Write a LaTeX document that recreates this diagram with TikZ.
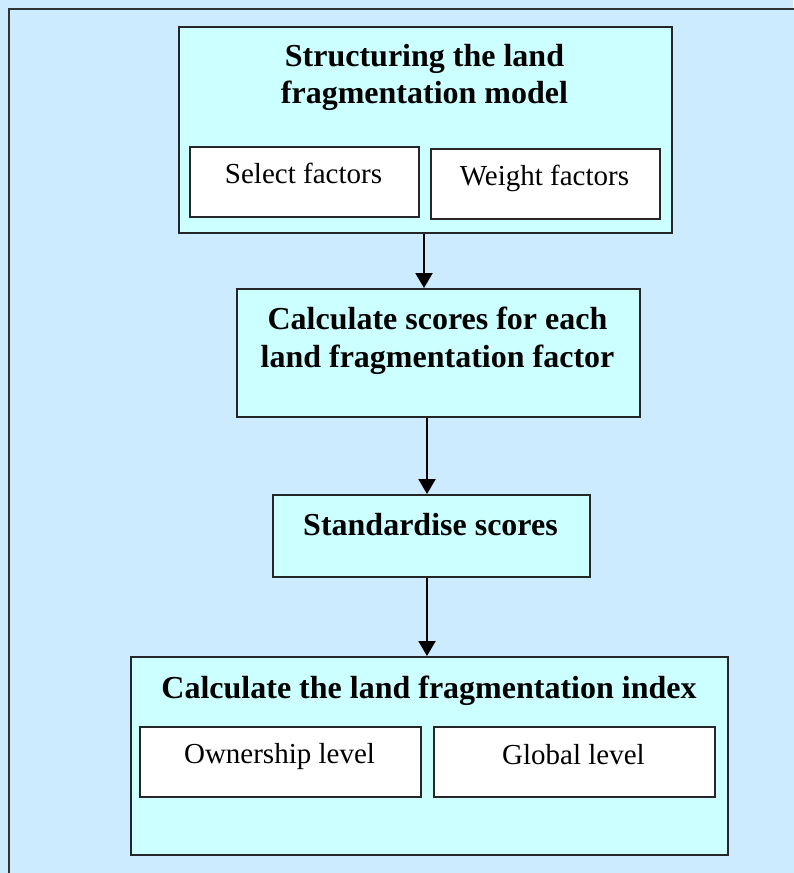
\documentclass[tikz,border=0pt]{standalone}
\usepackage{fontspec}
\setmainfont{Liberation Serif}
\usetikzlibrary{arrows.meta}
\definecolor{bgblue}{HTML}{CCEBFF}
\definecolor{boxcyan}{HTML}{CCFFFF}
\begin{document}
\begin{tikzpicture}[x=1pt,y=-1pt,
  stage/.style={draw=black!85,line width=1.6pt,fill=boxcyan,rectangle,inner sep=0pt,anchor=north west},
  sub/.style={draw=black!85,line width=1.6pt,fill=white,rectangle,inner sep=0pt,anchor=north west},
  ttl/.style={font=\fontsize{32}{37}\selectfont\bfseries,anchor=base,inner sep=0pt},
  lbl/.style={font=\fontsize{29}{33}\selectfont,anchor=base,inner sep=0pt},
  arr/.style={line width=2.2pt,-{Triangle[length=15pt,width=17pt]}}]
\useasboundingbox (0,0) rectangle (793,873);
\fill[bgblue] (0,0) rectangle (793,873);
\draw[black!80,line width=1.5pt,fill=bgblue] (9,9) rectangle (820,900);
% box 1
\node[stage,minimum width=493pt,minimum height=206pt] (b1) at (178,26) {};
\node[sub,minimum width=229pt,minimum height=70pt] (s1) at (189,146) {};
\node[sub,minimum width=229pt,minimum height=70pt] (s2) at (430,148) {};
\node[ttl] (t1a) at (424.5,66) {Structuring the land};
\node[ttl] (t1b) at (424.5,103) {fragmentation model};
\node[lbl] (l1) at (303.5,183) {Select factors};
\node[lbl] (l2) at (544.5,185) {Weight factors};
% box 2
\node[stage,minimum width=403pt,minimum height=128pt] (b2) at (236,288) {};
\node[ttl] (t2a) at (437.5,329) {Calculate scores for each};
\node[ttl] (t2b) at (437.5,367) {land fragmentation factor};
% box 3
\node[stage,minimum width=317pt,minimum height=82pt] (b3) at (272,494) {};
\node[ttl] (t3) at (430.5,535) {Standardise scores};
% box 4
\node[stage,minimum width=597pt,minimum height=198pt] (b4) at (130,656) {};
\node[ttl] (t4) at (429,698) {Calculate the land fragmentation index};
\node[sub,minimum width=281pt,minimum height=70pt] (s3) at (139,726) {};
\node[sub,minimum width=281pt,minimum height=70pt] (s4) at (433,726) {};
\node[lbl] (l3) at (279.5,763) {Ownership level};
\node[lbl] (l4) at (573.5,764) {Global level};
% arrows
\draw[arr] (b1.south -| 424,0) -- (b2.north -| 424,0);
\draw[arr] (b2.south -| 427,0) -- (b3.north -| 427,0);
\draw[arr] (b3.south -| 427,0) -- (b4.north -| 427,0);
\end{tikzpicture}
\end{document}
